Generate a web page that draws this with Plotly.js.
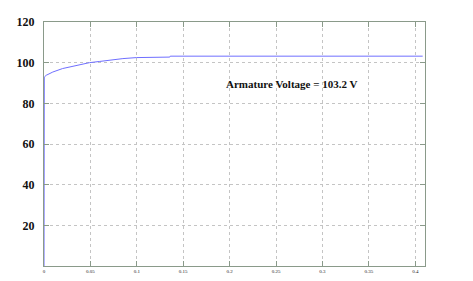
<!DOCTYPE html>
<html>
<head>
<meta charset="utf-8">
<script src="https://cdn.plot.ly/plotly-3.0.1.min.js"></script>
<style>html,body{margin:0;padding:0;background:#fff;}#chart{width:473px;height:281px;}</style>
</head>
<body>
<div id="chart"></div>
<script>
var timeS = [0, 0, 0.0003, 0.0024, 0.0095, 0.020, 0.031, 0.042, 0.049, 0.060, 0.074, 0.085, 0.0996, 0.118, 0.1355, 0.136, 0.408];
var voltageV = [0, 89, 92.9, 93.8, 95.4, 97.1, 98.3, 99.2, 100.0, 100.6, 101.5, 102.0, 102.5, 102.65, 102.75, 103.2, 103.2];
var xTickVals = [0, 0.05, 0.1, 0.15, 0.2, 0.25, 0.3, 0.35, 0.4];
var xTickText = ['0', '0.05', '0.1', '0.15', '0.2', '0.25', '0.3', '0.35', '0.4'];
var yTickVals = [20, 40, 60, 80, 100, 120];
var yTickText = ['20', '40', '60', '80', '100', '120'];
var annText = 'Armature Voltage = 103.2 V';

var axisColor = '#8a9a8a';
var trace = {
  x: timeS, y: voltageV, type: 'scatter', mode: 'lines',
  line: {color: '#6f6fff', width: 1}, hoverinfo: 'skip'
};
var layout = {
  width: 473, height: 281,
  margin: {l: 44, r: 48, t: 22, b: 15},
  paper_bgcolor: '#fff', plot_bgcolor: '#fff',
  showlegend: false,
  xaxis: {
    range: [0, 0.4105], tickvals: xTickVals, ticktext: xTickText,
    showgrid: true, gridcolor: '#c4c4c4', griddash: 'dot', gridwidth: 1,
    showline: true, linecolor: axisColor, linewidth: 1, mirror: 'ticks',
    ticks: 'inside', ticklen: 5, tickcolor: axisColor,
    tickfont: {family: 'Liberation Serif', size: 5, color: '#222'},
    ticklabelstandoff: 0, zeroline: false
  },
  yaxis: {
    range: [0, 120], tickvals: yTickVals, ticktext: yTickText,
    showgrid: true, gridcolor: '#c4c4c4', griddash: 'dot', gridwidth: 1,
    showline: true, linecolor: axisColor, linewidth: 1, mirror: 'ticks',
    ticks: 'inside', ticklen: 5, tickcolor: axisColor,
    tickfont: {family: 'Liberation Serif', size: 12, color: '#111', weight: 'bold'},
    ticklabelstandoff: 6, zeroline: false
  },
  annotations: [{
    x: 0.2667, y: 89.4, xref: 'x', yref: 'y', text: annText, showarrow: false,
    font: {family: 'Liberation Serif', size: 11, color: '#111', weight: 'bold'}
  }]
};
Plotly.newPlot('chart', [trace], layout, {displayModeBar: false, staticPlot: true});
</script>
</body>
</html>
